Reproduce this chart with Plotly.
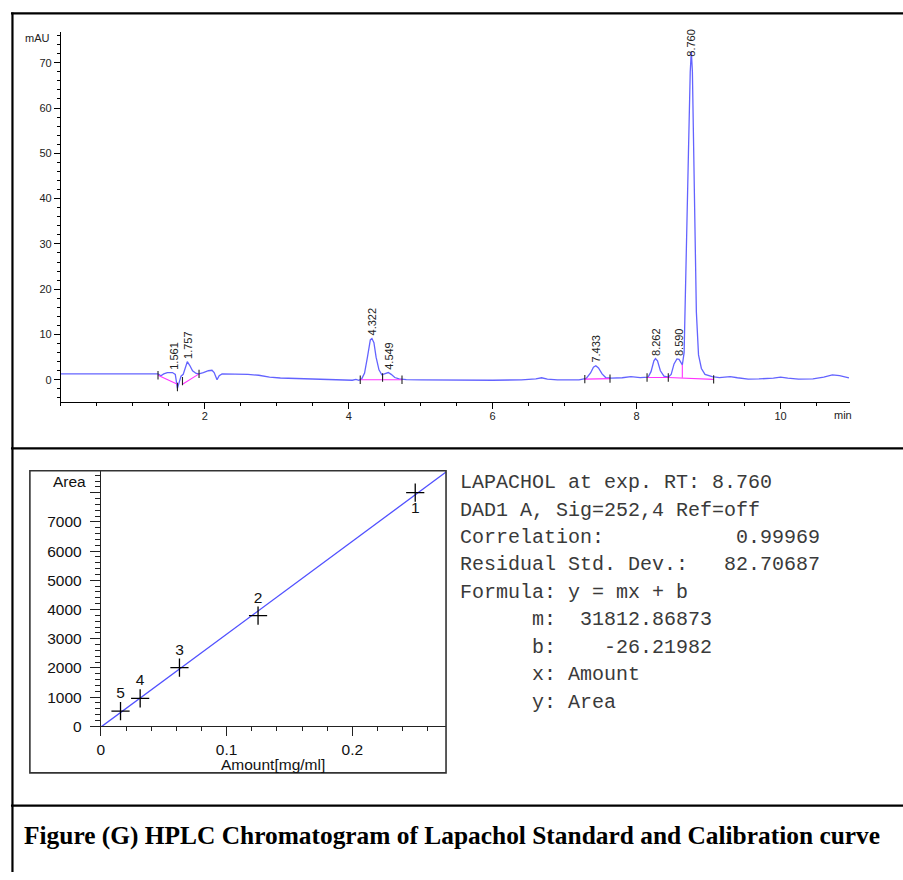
import plotly.graph_objects as go

W, H = 903, 880

# ---------------- Chromatogram data ----------------
time_min = [0.0, 1.35, 1.39, 1.43, 1.48, 1.55, 1.59, 1.62, 1.645, 1.67, 1.70, 1.73, 1.757,
            1.79, 1.83, 1.88, 1.92, 1.98, 2.05, 2.10, 2.13, 2.17, 2.20, 2.24, 2.40, 2.60,
            2.75, 2.90, 3.05, 3.30, 3.60, 3.90, 4.05, 4.10, 4.14, 4.18, 4.22, 4.26, 4.30,
            4.322, 4.35, 4.38, 4.42, 4.46, 4.50, 4.549, 4.59, 4.64, 4.70, 4.80, 5.00, 5.50,
            6.00, 6.40, 6.60, 6.68, 6.76, 6.90, 7.20, 7.30, 7.36, 7.40, 7.433, 7.47, 7.52,
            7.57, 7.65, 7.80, 7.92, 8.05, 8.16, 8.20, 8.24, 8.262, 8.29, 8.33, 8.38, 8.44,
            8.48, 8.52, 8.56, 8.590, 8.615, 8.635, 8.66, 8.69, 8.72, 8.745, 8.760, 8.775,
            8.80, 8.83, 8.86, 8.90, 8.95, 9.05, 9.15, 9.30, 9.40, 9.55, 9.70, 9.90, 10.00,
            10.10, 10.25, 10.45, 10.60, 10.72, 10.82, 10.95]
signal_mau = [1.3, 1.3, 0.9, 1.3, 1.6, 1.6, 1.2, -1.9, -0.5, 0.8, 1.2, 3.0, 4.0,
              3.2, 2.0, 1.4, 1.3, 1.6, 2.0, 2.1, 1.6, 0.0, 0.9, 1.3, 1.3, 1.2,
              1.0, 0.6, 0.4, 0.25, 0.1, 0.0, -0.1, 0.1, -0.1, 0.2, 1.5, 5.0, 8.8,
              9.1, 8.2, 5.0, 2.2, 1.1, 1.3, 1.6, 1.2, 0.5, 0.2, 0.05, 0.0, -0.1,
              -0.1, 0.0, 0.2, 0.45, 0.15, 0.0, 0.0, 0.3, 1.5, 2.8, 3.1, 2.6, 1.3,
              0.5, 0.35, 0.45, 0.7, 0.5, 0.6, 1.8, 4.2, 4.7, 4.2, 2.0, 0.8, 0.6,
              1.2, 3.5, 4.6, 4.5, 3.7, 3.3, 6.0, 25.0, 50.0, 68.0, 72.5, 68.0,
              42.0, 15.0, 5.5, 2.5, 1.2, 0.7, 0.5, 0.7, 0.45, 0.15, 0.2, 0.35, 0.6,
              0.35, 0.15, 0.2, 0.6, 1.1, 0.9, 0.4]

peak_rt = [1.561, 1.757, 4.322, 4.549, 7.433, 8.262, 8.590, 8.760]
peak_label_y = [1.6, 4.0, 9.1, 1.6, 3.1, 4.7, 4.6, 72.5]
peak_labels = ["1.561", "1.757", "4.322", "4.549", "7.433", "8.262", "8.590", "8.760"]

# integration baselines (None separates segments)
base_t = [1.35, 1.62, None, 1.69, 1.92, None, 4.16, 4.74, None, 4.47, 4.47, None,
          7.28, 7.63, None, 8.145, 8.44, None, 8.44, 9.07, None, 8.635, 8.635]
base_y = [1.0, -1.0, None, -1.0, 1.3, None, 0.0, 0.0, None, 0.0, 1.1, None,
          0.15, 0.25, None, 0.5, 0.5, None, 0.5, 0.1, None, 0.45, 3.3]
mark_t = [1.35, 1.62, 1.69, 1.92, 4.16, 4.47, 4.74, 7.28, 7.63, 8.145, 8.44, 9.07]
mark_y = [1.0, -1.6, -0.3, 1.3, 0.0, 0.5, 0.0, 0.15, 0.25, 0.5, 0.5, 0.1]

chrom_xticks = [2, 4, 6, 8, 10]

# ---------------- Calibration data ----------------
amount = [0.25, 0.125, 0.0625, 0.03125, 0.015625]
area = [8000, 3790, 2010, 960, 520]
level = ["1", "2", "3", "4", "5"]
level_pos = ["bottom center", "top center", "top center", "top center", "top center"]
fit_amount = [0.0, 0.2745]
fit_area = [-26.2, 8706.4]

cal_yticks = [0, 1000, 2000, 3000, 4000, 5000, 6000, 7000, 8000]
cal_yticktext = ["0", "1000", "2000", "3000", "4000", "5000", "6000", "7000", ""]
cal_xticks = [0, 0.1, 0.2]
cal_xticktext = ["0", "0.1", "0.2"]

report_lines = [
    "LAPACHOL at exp. RT: 8.760",
    "DAD1 A, Sig=252,4 Ref=off",
    "Correlation:           0.99969",
    "Residual Std. Dev.:   82.70687",
    "Formula: y = mx + b",
    "      m:  31812.86873",
    "      b:    -26.21982",
    "      x: Amount",
    "      y: Area",
]
caption = "Figure (G) HPLC Chromatogram of Lapachol Standard and Calibration curve"


def px(x):
    return x / W


def py(y):
    return 1 - y / H


SANS = "Arial, Liberation Sans, sans-serif"
MONO = "Courier New, Liberation Mono, monospace"
SERIF = "Times New Roman, Liberation Serif, serif"

fig = go.Figure()

# chromatogram
fig.add_trace(go.Scatter(x=time_min, y=signal_mau, mode="lines",
                         line=dict(color="rgba(60,60,255,0.8)", width=1.3),
                         xaxis="x", yaxis="y", hoverinfo="skip"))
fig.add_trace(go.Scatter(x=base_t, y=base_y, mode="lines",
                         line=dict(color="#ff33ff", width=1.1),
                         xaxis="x", yaxis="y", hoverinfo="skip"))
fig.add_trace(go.Scatter(x=mark_t, y=mark_y, mode="markers",
                         marker=dict(symbol="line-ns", size=6,
                                     line=dict(color="#222", width=1.1)),
                         xaxis="x", yaxis="y", hoverinfo="skip"))

# calibration
fig.add_trace(go.Scatter(x=fit_amount, y=fit_area, mode="lines",
                         line=dict(color="rgb(80,80,255)", width=1.3),
                         xaxis="x2", yaxis="y2", hoverinfo="skip"))
for a, ar, lv, pos in zip(amount, area, level, level_pos):
    fig.add_trace(go.Scatter(x=[a], y=[ar], mode="markers+text", text=[lv],
                             textposition=pos,
                             textfont=dict(family=SANS, size=15.5, color="#111"),
                             marker=dict(symbol="cross-thin", size=13,
                                         line=dict(color="black", width=1.3)),
                             xaxis="x2", yaxis="y2", hoverinfo="skip"))

annotations = []
for rt, yv, lab in zip(peak_rt, peak_label_y, peak_labels):
    annotations.append(dict(x=rt, y=yv, xref="x", yref="y", text=lab, showarrow=False,
                            textangle=-90, xanchor="center", yanchor="bottom",
                            yshift=(-7 if lab == "8.760" else 1),
                            font=dict(family=SANS, size=11, color="#222")))
annotations.append(dict(x=px(48), y=py(38), xref="paper", yref="paper", text="mAU",
                        showarrow=False, xanchor="right", yanchor="middle",
                        font=dict(family=SANS, size=11, color="#222")))
annotations.append(dict(x=px(832), y=py(419), xref="paper", yref="paper", text="min",
                        showarrow=False, xanchor="left", yanchor="middle",
                        font=dict(family=SANS, size=11, color="#222")))
annotations.append(dict(x=px(84), y=py(486), xref="paper", yref="paper", text="Area",
                        showarrow=False, xanchor="right", yanchor="middle",
                        font=dict(family=SANS, size=15.5, color="#111")))
annotations.append(dict(x=px(270.5), y=py(772), xref="paper", yref="paper",
                        text="Amount[mg/ml]", showarrow=False, xanchor="center",
                        yanchor="middle", font=dict(family=SANS, size=15.5, color="#111")))
for i, line in enumerate(report_lines):
    annotations.append(dict(x=px(456), y=py(487 + i * 27.7), xref="paper", yref="paper",
                            text=line.replace(" ", "\u00a0"), showarrow=False,
                            xanchor="left", yanchor="middle", align="left",
                            font=dict(family=MONO, size=20, color="#3a3a3a")))
annotations.append(dict(x=px(18), y=py(843), xref="paper", yref="paper",
                        text="<b>" + caption + "</b>", showarrow=False,
                        xanchor="left", yanchor="middle",
                        font=dict(family=SERIF, size=25.4, color="black")))

shapes = [
    dict(type="line", xref="paper", yref="paper", x0=px(7), x1=1, y0=py(13.5), y1=py(13.5),
         line=dict(color="black", width=2.2)),
    dict(type="line", xref="paper", yref="paper", x0=px(8.5), x1=px(8.5), y0=py(12.5), y1=0,
         line=dict(color="black", width=2.2)),
    dict(type="line", xref="paper", yref="paper", x0=px(7), x1=1, y0=py(452.5), y1=py(452.5),
         line=dict(color="black", width=2.2)),
    dict(type="line", xref="paper", yref="paper", x0=px(7), x1=1, y0=py(813), y1=py(813),
         line=dict(color="black", width=2.2)),
    dict(type="rect", xref="paper", yref="paper", x0=px(26), x1=px(444), y0=py(780), y1=py(475),
         line=dict(color="#333", width=1.6)),
]

tick_font_small = dict(family=SANS, size=11, color="#222")
tick_font_big = dict(family=SANS, size=15.5, color="#111")

fig.update_layout(
    width=W, height=H, margin=dict(l=0, r=0, t=0, b=0),
    paper_bgcolor="white", plot_bgcolor="white", showlegend=False,
    annotations=annotations, shapes=shapes,
    xaxis=dict(domain=[px(57.1), px(850)], range=[0, 10.968], anchor="y",
               showline=True, linecolor="black", linewidth=1, showgrid=False, zeroline=False,
               ticks="outside", ticklen=6, tickcolor="black", tickvals=chrom_xticks,
               tickfont=tick_font_small, ticklabelstandoff=-3,
               minor=dict(ticks="outside", dtick=0.5, tick0=0, ticklen=3, tickcolor="black")),
    yaxis=dict(domain=[py(406), py(32)], range=[-4.97, 76.85], anchor="x",
               showline=True, linecolor="black", linewidth=1, showgrid=False, zeroline=False,
               ticks="outside", ticklen=6, tickcolor="black", dtick=10, tick0=0,
               tickfont=tick_font_small,
               minor=dict(ticks="outside", dtick=2, tick0=0, ticklen=3, tickcolor="black")),
    xaxis2=dict(domain=[px(97.3), px(444)], range=[0, 0.2745], anchor="y2",
                showline=True, linecolor="#222", linewidth=1.2, showgrid=False, zeroline=False,
                ticks="outside", ticklen=9, tickcolor="#222", tickvals=cal_xticks,
                ticktext=cal_xticktext, tickfont=tick_font_big,
                minor=dict(ticks="outside", dtick=0.02, tick0=0, ticklen=4, tickcolor="#222")),
    yaxis2=dict(domain=[py(733), py(475)], range=[0, 8754], anchor="x2",
                showline=True, linecolor="#222", linewidth=1.2, showgrid=False, zeroline=False,
                ticks="outside", ticklen=10, tickcolor="#222", tickvals=cal_yticks,
                ticktext=cal_yticktext, tickfont=tick_font_big, ticklabelstandoff=5,
                minor=dict(ticks="outside", dtick=200, tick0=0, ticklen=5, tickcolor="#222")),
)

fig.write_html("out.html")
